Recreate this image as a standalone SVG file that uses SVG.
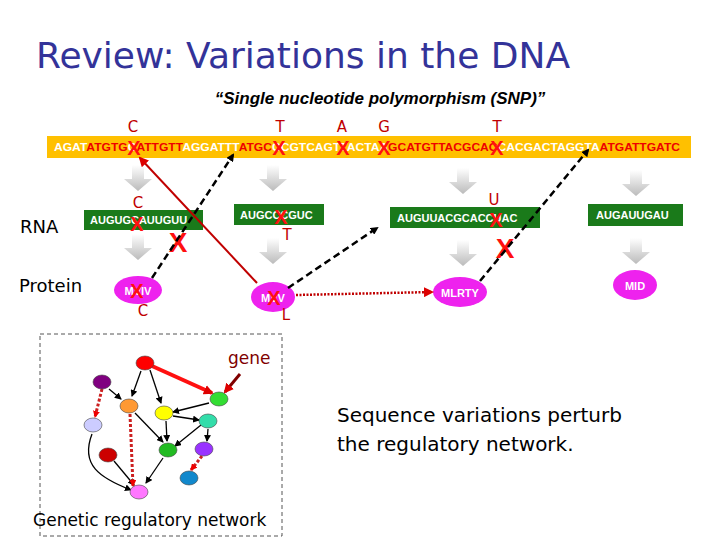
<svg xmlns="http://www.w3.org/2000/svg" width="720" height="540" viewBox="0 0 720 540">
<defs>
<style>
.s{font-family:"Liberation Sans",Arial,sans-serif}
.t{font-family:Tahoma,"DejaVu Sans",sans-serif}
.rl{fill:#c00000;font-size:15px}
.bx{fill:#1a7a1a}
.rn{fill:#fff;font-size:11px;font-weight:bold}
.x{fill:#ff1010;font-weight:bold;font-family:"Liberation Sans",sans-serif}
.el{fill:#ee22ee}
</style>
<linearGradient id="g" x1="0" y1="0" x2="0" y2="1"><stop offset="0" stop-color="#fff"/><stop offset="1" stop-color="#bbb"/></linearGradient>
<marker id="ab" markerWidth="8" markerHeight="8" refX="6" refY="4" orient="auto" markerUnits="userSpaceOnUse"><path d="M0,0L8,4L0,8z" fill="#000"/></marker>
<marker id="ar" markerWidth="10" markerHeight="10" refX="8" refY="5" orient="auto" markerUnits="userSpaceOnUse"><path d="M0,0L10,5L0,10z" fill="#d00"/></marker>
<marker id="as" markerWidth="7" markerHeight="7" refX="6" refY="3.5" orient="auto" markerUnits="userSpaceOnUse"><path d="M0,0L7,3.5L0,7z" fill="#000"/></marker>
<marker id="agr" markerWidth="7" markerHeight="7" refX="6" refY="3.5" orient="auto" markerUnits="userSpaceOnUse"><path d="M0,0L7,3.5L0,7z" fill="#e00"/></marker>
<g id="garrow"><path d="M-6,0h12v14h8l-14,12l-14,-12h8z" fill="url(#g)"/></g>
</defs>
<rect width="720" height="540" fill="#fff"/>
<text class="t" x="36" y="68" font-size="36" fill="#333399">Review: Variations in the DNA</text>
<text class="s" x="380" y="104" font-size="17" font-weight="bold" font-style="italic" text-anchor="middle" fill="#000">“Single nucleotide polymorphism (SNP)”</text>
<g id="dna">
<rect x="47" y="136" width="644" height="22" fill="#ffc000"/>
<text class="s" x="54" y="151" font-size="11" font-weight="bold" textLength="626" lengthAdjust="spacingAndGlyphs"><tspan fill="#fff">AGAT</tspan><tspan fill="#e00">ATGTG</tspan><tspan fill="#fff">C</tspan><tspan fill="#e00">ATTGTT</tspan><tspan fill="#fff">AGGATTT</tspan><tspan fill="#e00">ATGC</tspan><tspan fill="#fff">C</tspan><tspan fill="#fff">CGTCAGT</tspan><tspan fill="#fff">TACTA</tspan><tspan fill="#fff">A</tspan><tspan fill="#e00">GCATGTTACGCAC</tspan><tspan fill="#fff">C</tspan><tspan fill="#fff">ACGACTAGGTA</tspan><tspan fill="#e00">ATGATTGATC</tspan></text>
<g class="x" font-size="20" text-anchor="middle"><text x="134" y="155">X</text><text x="279" y="155">X</text><text x="343" y="155">X</text><text x="384" y="155">X</text><text x="497" y="155">X</text></g>
<g class="t rl" text-anchor="middle"><text x="133" y="132">C</text><text x="280" y="132">T</text><text x="342" y="132">A</text><text x="384" y="132">G</text><text x="497" y="132">T</text></g>
</g>
<g id="arrows">
<use href="#garrow" x="138" y="165"/><use href="#garrow" x="138" y="234"/>
<use href="#garrow" x="273" y="165"/><use href="#garrow" x="273" y="238"/>
<use href="#garrow" x="463" y="168"/><use href="#garrow" x="463" y="240"/>
<use href="#garrow" x="636" y="170"/><use href="#garrow" x="636" y="238"/>
</g>
<g class="t" font-size="18"><text x="20" y="233">RNA</text><text x="19" y="292">Protein</text></g>
<g id="rna1"><rect class="bx" x="84" y="210" width="119" height="20"/><text class="s rn" x="90" y="224">AUGUGCAUUGUU</text><text class="x" x="137" y="231" font-size="20" text-anchor="middle">X</text><text class="t rl" x="138" y="208" text-anchor="middle">C</text></g>
<g id="rna2"><rect class="bx" x="234" y="204" width="90" height="21"/><text class="s rn" x="240" y="219">AUGCCCGUC</text><text class="x" x="281" y="224" font-size="20" text-anchor="middle">X</text><text class="t rl" x="287" y="240" text-anchor="middle">T</text></g>
<g id="rna3"><rect class="bx" x="390" y="207" width="150" height="21"/><text class="s rn" x="397" y="222">AUGUUACGCACCUAC</text><text class="x" x="496" y="227" font-size="20" text-anchor="middle">X</text><text class="t rl" x="494" y="205" text-anchor="middle">U</text></g>
<g id="rna4"><rect class="bx" x="588" y="204" width="95" height="22"/><text class="s rn" x="596" y="219">AUGAUUGAU</text></g>
<g id="p1"><ellipse class="el" cx="138" cy="290" rx="24" ry="14"/><text class="s rn" x="138" y="295" text-anchor="middle">MVIV</text><text class="x" x="137" y="298" font-size="20" text-anchor="middle">X</text><text class="t rl" x="143" y="316" text-anchor="middle">C</text></g>
<g id="p2"><ellipse class="el" cx="273" cy="297" rx="22" ry="15"/><text class="s rn" x="273" y="302" text-anchor="middle">MVV</text><text class="x" x="274" y="305" font-size="20" text-anchor="middle">X</text><text class="t rl" x="286" y="320" text-anchor="middle">L</text></g>
<g id="p3"><ellipse class="el" cx="460" cy="292" rx="27" ry="15"/><text class="s rn" x="460" y="297" text-anchor="middle">MLRTY</text></g>
<g id="p4"><ellipse class="el" cx="635" cy="285" rx="22" ry="15"/><text class="s rn" x="635" y="290" text-anchor="middle">MID</text></g>
<g id="bigx" class="x" font-size="28" text-anchor="middle"><text x="178" y="252">X</text><text x="505" y="258">X</text></g>
<g id="connectors" fill="none">
<line x1="152" y1="278" x2="233" y2="155" stroke="#000" stroke-width="2.5" stroke-dasharray="7,4" marker-end="url(#ab)"/>
<line x1="257" y1="283" x2="140" y2="158" stroke="#c00000" stroke-width="2" marker-end="url(#ar)"/>
<line x1="288" y1="288" x2="377" y2="228" stroke="#000" stroke-width="2.5" stroke-dasharray="7,4" marker-end="url(#ab)"/>
<line x1="296" y1="295" x2="432" y2="292" stroke="#c00000" stroke-width="2.5" stroke-dasharray="2,1.5" marker-end="url(#ar)"/>
<line x1="480" y1="281" x2="588" y2="150" stroke="#000" stroke-width="2.5" stroke-dasharray="7,4" marker-end="url(#ab)"/>
</g>
<rect x="40" y="334" width="242" height="202" fill="none" stroke="#555" stroke-dasharray="4,3"/>
<g id="network">
<g stroke="#000" stroke-width="1.3" fill="none" marker-end="url(#as)">
<line x1="141" y1="371" x2="132" y2="396"/>
<line x1="150" y1="370" x2="161" y2="403"/>
<line x1="109" y1="389" x2="121" y2="399"/>
<line x1="209" y1="403" x2="173" y2="412"/>
<line x1="173" y1="416" x2="199" y2="420"/>
<line x1="166" y1="421" x2="167" y2="441"/>
<line x1="201" y1="425" x2="175" y2="446"/>
<line x1="135" y1="413" x2="163" y2="442"/>
<line x1="208" y1="429" x2="207" y2="441"/>
<line x1="163" y1="458" x2="146" y2="483"/>
<line x1="114" y1="461" x2="134" y2="485"/>
<path d="M92,434 C80,465 100,478 131,490"/>
</g>
<g stroke="#cc2020" stroke-width="3" stroke-dasharray="3,2" fill="none" marker-end="url(#agr)">
<line x1="102" y1="389" x2="95" y2="417"/>
<line x1="130" y1="414" x2="133" y2="486"/>
<line x1="202" y1="456" x2="191" y2="470"/>
</g>
<line x1="152" y1="366" x2="212" y2="393" stroke="#ff1010" stroke-width="4" marker-end="url(#ar)"/>
<line x1="240" y1="374" x2="225" y2="392" stroke="#800000" stroke-width="3" marker-end="url(#ar)"/>
<g stroke="#444" stroke-width="0.6">
<ellipse cx="145" cy="363" rx="9" ry="7" fill="#ff0000"/>
<ellipse cx="102" cy="382" rx="9" ry="7" fill="#800080"/>
<ellipse cx="129" cy="406" rx="9" ry="7" fill="#ff9933"/>
<ellipse cx="164" cy="413" rx="9" ry="7" fill="#ffff00"/>
<ellipse cx="219" cy="399" rx="9" ry="7" fill="#33dd33"/>
<ellipse cx="208" cy="421" rx="9" ry="7" fill="#33ddaa"/>
<ellipse cx="93" cy="425" rx="9" ry="7" fill="#ccccff"/>
<ellipse cx="108" cy="455" rx="9" ry="7" fill="#cc0000"/>
<ellipse cx="168" cy="450" rx="9" ry="7" fill="#22bb22"/>
<ellipse cx="204" cy="449" rx="9" ry="7" fill="#9933ff"/>
<ellipse cx="189" cy="478" rx="9" ry="7" fill="#1188cc"/>
<ellipse cx="139" cy="492" rx="9" ry="7" fill="#ff77ff"/>
</g>
</g>
<text class="t" x="228" y="364" font-size="17" fill="#800000">gene</text>
<text class="t" x="33" y="526" font-size="17" fill="#000">Genetic regulatory network</text>
<g class="t" font-size="20" fill="#000"><text x="337" y="422">Sequence variations perturb</text><text x="337" y="451">the regulatory network.</text></g>
</svg>
